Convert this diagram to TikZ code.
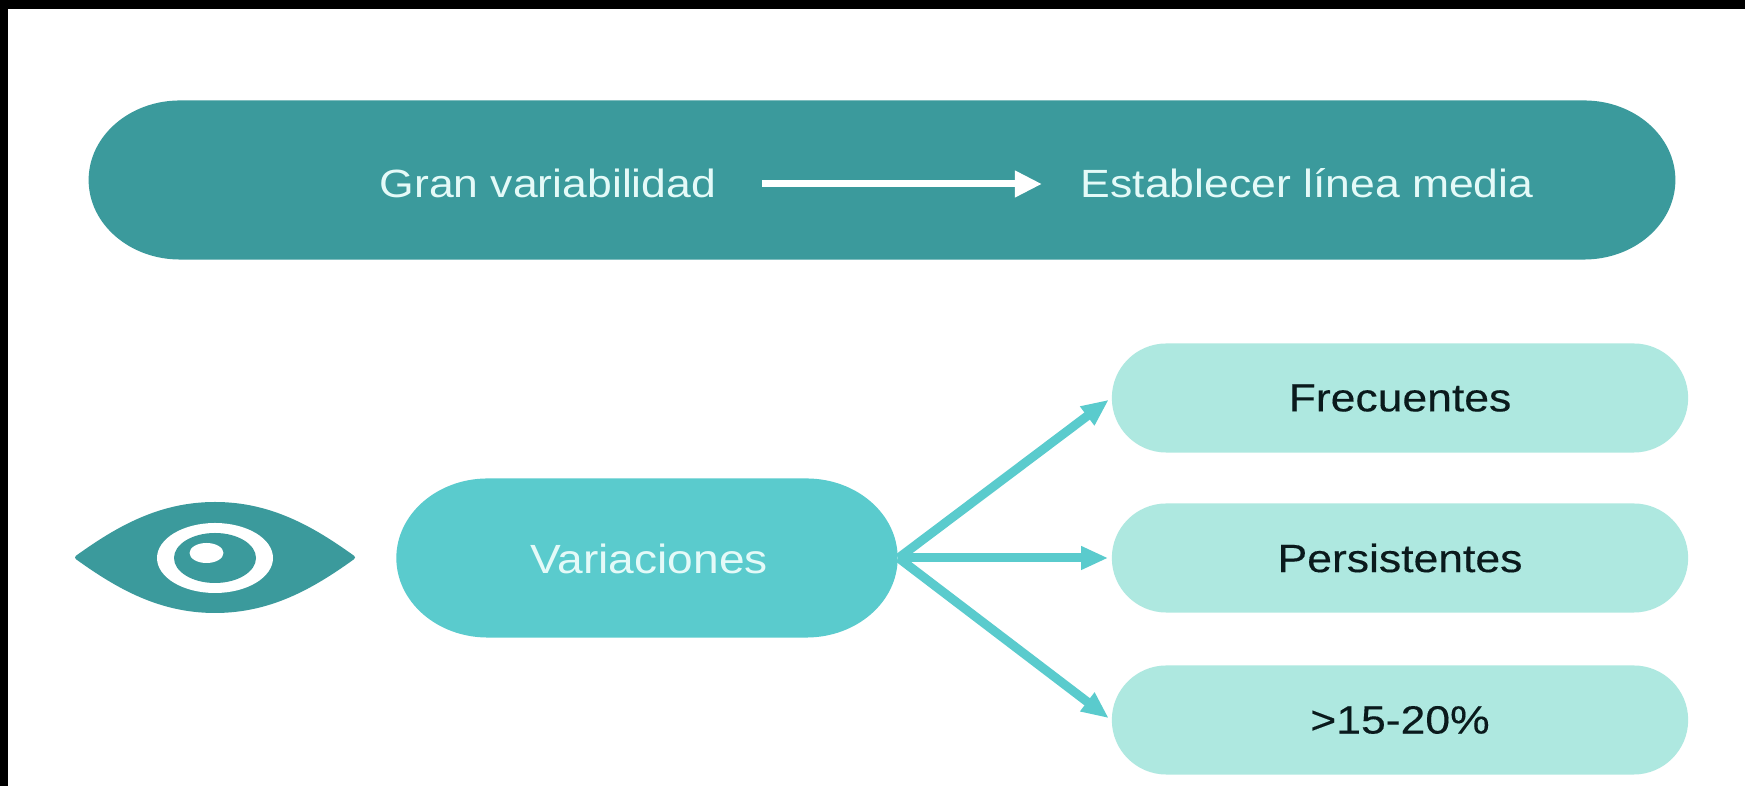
\documentclass[tikz,border=0pt]{standalone}
\usepackage{fontspec}
\setmainfont[FakeStretch=1.13]{Liberation Sans}
\newfontfamily\pillfont[FakeStretch=1.13,FakeBold=0.3]{Liberation Sans}
\usetikzlibrary{arrows.meta,shapes.misc}
\definecolor{tealdark}{HTML}{3B9A9C}
\definecolor{tealmid}{HTML}{5ACBCD}
\definecolor{teallight}{HTML}{AEE8E0}
\definecolor{textpale}{HTML}{E4FAF8}
\definecolor{textdark}{HTML}{0A1A1C}
\tikzset{
    pill/.style={rounded rectangle, inner sep=0pt, fill=teallight, text=textdark, minimum width=5.76cm, minimum height=1.09cm, font=\pillfont\fontsize{11.2}{13}\selectfont},
    widepill/.style={rounded rectangle, inner sep=0pt, transform shape, xscale=1.15, minimum height=1.59cm},
    lbl/.style={inner sep=0pt, text=textpale, text height=7.5pt, text depth=0pt, font=\fontsize{11.2}{13}\selectfont},
    conn/.style={line width=0.09cm, tealmid, shorten >=0.03cm, -{Triangle[length=0.27cm, width=0.22cm]}}
}
\begin{document}
\begin{tikzpicture}[x=0.01cm, y=-0.01cm]
    \useasboundingbox (0, 0) rectangle (1745, 786);
    \fill[white] (0, 0) rectangle (1745, 786);
    \fill[black] (0, 0) rectangle (1745, 9);
    \fill[black] (0, 0) rectangle (8, 786);

    \node[widepill, fill=tealdark, minimum width=13.79cm] (banner) at (882, 180) {};
    \node[lbl, anchor=west] (gran) at (379, 184) {Gran variabilidad};
    \node[lbl, anchor=west] (est) at (1080, 184) {Establecer línea media};
    \draw[white, line width=0.07cm, -{Triangle[length=0.27cm, width=0.25cm]}, shorten <=0.45cm, shorten >=0.38cm] (gran.east) -- (est.west);

    % eye
    \filldraw[tealdark, line width=0.04cm, line join=round] (77, 557.5) .. controls (118, 528) and (160, 504) .. (215, 504)
        .. controls (270, 504) and (312, 528) .. (353, 557.5)
        .. controls (312, 587) and (270, 611) .. (215, 611)
        .. controls (160, 611) and (118, 587) .. (77, 557.5) -- cycle;
    \fill[white] (215, 558) ellipse (58 and 35);
    \fill[tealdark] (215, 558) ellipse (41 and 25);
    \fill[white] (206.5, 553) ellipse (17 and 10);

    \node[widepill, fill=tealmid, minimum width=4.357cm] (var) at (647, 558) {};
    \node[lbl, font=\fontsize{11.6}{13}\selectfont] (vartext) at (649, 560) {Variaciones};
    \node[pill] (fre) at (1400, 398) {Frecuentes};
    \node[pill] (per) at (1400, 558) {Persistentes};
    \node[pill] (pct) at (1400, 720) {>15-20\%};

    \draw[conn] (var.east) -- (fre.west);
    \draw[conn] (var.east) -- (per.west);
    \draw[conn] (var.east) -- (pct.west);
\end{tikzpicture}
\end{document}
